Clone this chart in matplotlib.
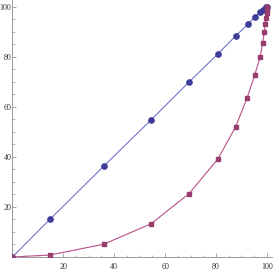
import matplotlib
matplotlib.use("Agg")
import matplotlib.pyplot as plt
from matplotlib.ticker import MultipleLocator, FixedLocator

blue_x = [0, 14.8, 35.9, 54.5, 69.4, 80.7, 87.7, 92.5, 95.3, 97.3, 98.4, 99.1, 99.5, 99.8, 100]
blue_y = [0, 15.1, 36.3, 54.8, 69.9, 81.1, 88.3, 92.9, 96.0, 97.7, 98.6, 99.2, 99.6, 99.8, 100]

red_x = [0, 14.8, 35.9, 54.5, 69.4, 80.7, 87.7, 92.2, 95.2, 97.4, 98.3, 99.0, 99.4, 99.7, 99.85, 99.95, 100]
red_y = [0, 0.8, 5.1, 13.3, 25.3, 39.1, 52.0, 63.5, 72.7, 80.1, 85.5, 89.8, 93.0, 95.5, 97.5, 99.0, 100]

x_major = [20, 40, 60, 80, 100]
y_major = [20, 40, 60, 80, 100]

fig = plt.figure(figsize=(2.73, 2.73), dpi=100)
ax = fig.add_axes([12.4 / 273, 16 / 273, (273 - 12.4) / 273, 257 / 273])

ax.plot(blue_x, blue_y, color="#7272CC", lw=0.8, zorder=2)
ax.plot(blue_x, blue_y, ls="none", marker="o", ms=3.8, color="#3D3D99", mec="#3D3D99", zorder=3)
ax.plot(red_x, red_y, color="#B8508A", lw=0.8, zorder=2)
ax.plot(red_x, red_y, ls="none", marker="s", ms=3.3, color="#993D6E", mec="#993D6E", zorder=3)

ax.set_xlim(0, (273 - 12.4) / 2.545)
ax.set_ylim(0, 257 / 2.503)

for s in ["top", "right"]:
    ax.spines[s].set_visible(False)
for s in ["left", "bottom"]:
    ax.spines[s].set_color("#999999")
    ax.spines[s].set_linewidth(0.7)

ax.xaxis.set_major_locator(FixedLocator(x_major))
ax.yaxis.set_major_locator(FixedLocator(y_major))
ax.xaxis.set_minor_locator(MultipleLocator(5))
ax.yaxis.set_minor_locator(MultipleLocator(5))
ax.set_xticklabels([str(v) for v in x_major])
ax.set_yticklabels([str(v) for v in y_major])

ax.tick_params(which="major", direction="in", length=3.0, width=0.6, color="#999999",
               labelsize=5.8, labelcolor="#333333")
ax.tick_params(which="minor", direction="in", length=1.8, width=0.5, color="#999999")
ax.tick_params(axis="x", which="major", pad=4.3)
ax.tick_params(axis="y", which="major", pad=0.6)
for lab in ax.get_xticklabels() + ax.get_yticklabels():
    lab.set_family(["Liberation Serif", "DejaVu Serif"])

fig.savefig("out.png", dpi=100)
